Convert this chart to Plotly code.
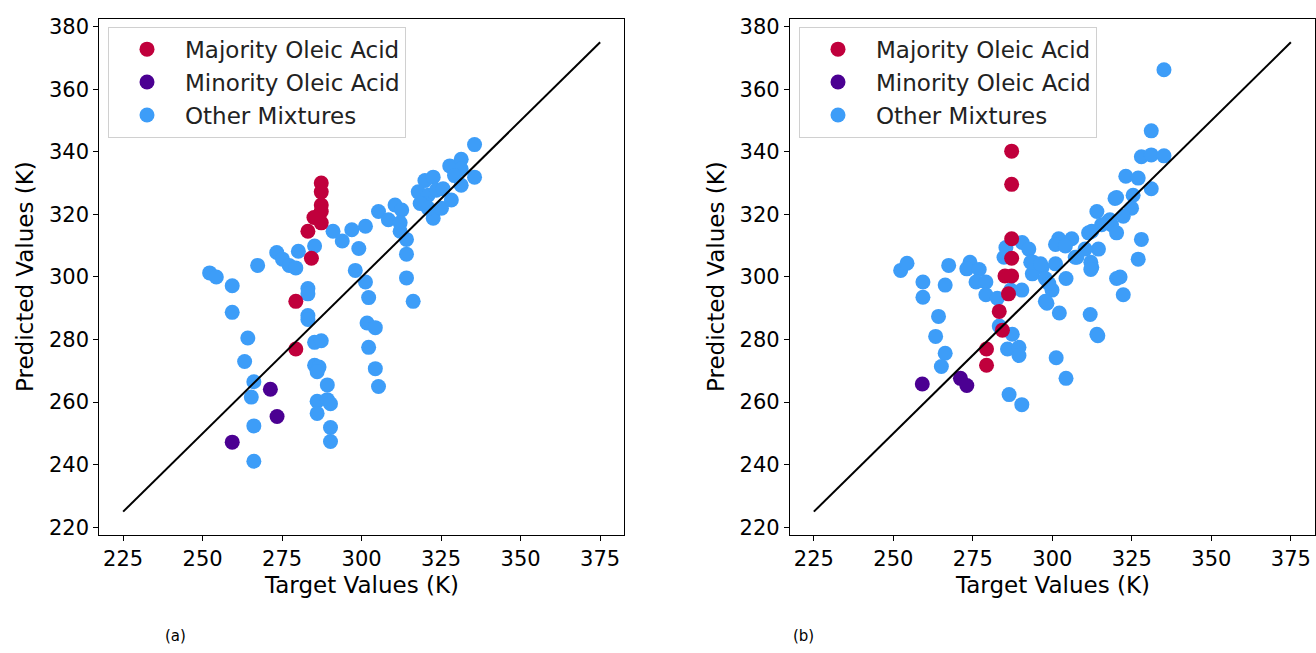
import plotly.graph_objects as go

# ---------------- data: panel (a) ----------------
a_major_x = [287.3, 287.3, 287.3, 287.3, 285.0, 287.3, 283.1, 284.2, 279.3, 279.3]
a_major_y = [330.0, 327.2, 323.0, 320.9, 319.0, 317.3, 314.6, 306.0, 292.2, 277.0]

a_minor_x = [271.3, 273.4, 259.3]
a_minor_y = [264.1, 255.4, 247.2]

a_other_x = [252.2, 254.3, 259.3, 259.3, 264.2, 263.2, 266.1, 265.3, 266.1, 266.1,
             267.3, 273.3, 275.1, 277.2, 279.3, 280.1, 285.2, 283.1, 283.1, 283.1,
             283.1, 285.2, 287.3, 285.2, 286.6, 286.0, 289.2, 286.0, 289.2, 290.2,
             286.0, 290.2, 290.2, 291.0, 293.9, 296.9, 298.0, 299.1, 301.2, 301.2,
             302.2, 301.7, 304.3, 302.2, 304.3, 305.3, 305.3, 308.4, 310.5, 312.6,
             312.1, 312.1, 314.1, 314.1, 314.1, 316.2, 317.8, 319.9, 322.5, 320.9,
             323.5, 319.9, 322.5, 325.1, 328.2, 327.7, 331.3, 331.3, 329.2, 331.3,
             335.5, 335.5, 318.4, 320.9, 325.6]
a_other_y = [301.3, 300.0, 297.2, 288.7, 280.5, 273.0, 266.5, 261.6, 252.4, 241.1,
             303.7, 307.8, 305.7, 303.7, 302.9, 308.2, 309.9, 296.3, 294.6, 287.7,
             286.4, 279.1, 279.6, 271.8, 271.2, 269.7, 265.5, 260.3, 260.8, 259.5,
             256.4, 251.9, 247.4, 314.6, 311.5, 315.1, 302.1, 309.1, 316.2, 298.4,
             293.4, 285.3, 283.8, 277.5, 270.7, 265.0, 320.9, 318.3, 323.0, 321.4,
             317.3, 314.6, 312.0, 307.3, 299.7, 292.2, 327.2, 330.8, 331.9, 326.1,
             327.7, 323.5, 318.8, 322.0, 324.6, 335.5, 337.6, 334.5, 332.4, 329.3,
             342.3, 331.9, 323.5, 322.0, 328.2]

# ---------------- data: panel (b) ----------------
b_major_x = [287.2, 287.2, 287.2, 287.2, 285.1, 287.2, 286.2, 283.3, 284.3, 279.3, 279.3]
b_major_y = [340.2, 329.6, 312.2, 306.0, 300.3, 300.3, 294.6, 289.0, 283.0, 277.0, 271.8]

b_minor_x = [259.1, 271.1, 273.1]
b_minor_y = [265.8, 267.6, 265.3]

b_other_x = [252.3, 254.3, 259.3, 259.3, 267.4, 266.3, 264.2, 263.3, 266.3, 265.1,
             274.1, 273.1, 277.0, 276.0, 279.1, 279.1, 282.7, 285.4, 284.8, 290.5,
             292.6, 290.4, 286.9, 283.3, 287.4, 285.9, 289.5, 289.5, 286.4, 290.4,
             294.0, 296.8, 293.7, 297.8, 301.0, 304.3, 299.9, 298.3, 302.2, 301.2,
             304.3, 302.0, 306.1, 307.2, 301.0, 304.1, 311.4, 314.0, 317.6, 319.7,
             314.5, 310.3, 307.7, 312.4, 298.9, 311.9, 314.0, 293.2, 296.3, 318.6,
             320.2, 335.1, 331.1, 328.0, 331.1, 335.1, 323.1, 327.0, 331.1, 320.2,
             325.4, 324.9, 322.3, 318.1, 315.5, 312.4, 320.2, 328.0, 327.0, 312.1,
             312.1, 321.3, 322.3, 297.8, 314.3]
b_other_y = [302.1, 304.4, 298.4, 293.5, 303.7, 297.4, 287.4, 281.0, 275.6, 271.4,
             304.7, 302.6, 302.4, 298.4, 298.4, 294.3, 293.2, 309.4, 306.3, 311.0,
             308.9, 295.8, 295.8, 284.3, 281.7, 277.0, 277.5, 274.9, 262.4, 259.2,
             304.7, 303.1, 301.0, 299.5, 304.2, 299.5, 295.8, 291.6, 288.5, 274.2,
             267.6, 312.2, 312.2, 306.3, 310.4, 309.9, 314.1, 320.9, 317.8, 325.1,
             308.9, 308.9, 306.3, 303.1, 297.9, 288.0, 281.7, 304.7, 304.2, 316.7,
             299.5, 366.2, 346.7, 338.4, 339.0, 338.7, 332.2, 331.6, 328.2, 325.4,
             326.1, 322.0, 319.4, 318.3, 316.7, 314.6, 314.1, 312.0, 305.7, 304.7,
             302.4, 300.0, 294.3, 292.2, 281.2]

# identity line
line_range = [225, 375]

# tick values
x_ticks = [225, 250, 275, 300, 325, 350, 375]
y_ticks = [220, 240, 260, 280, 300, 320, 340, 360, 380]

series_names = ["Majority Oleic Acid", "Minority Oleic Acid", "Other Mixtures"]
RED, PURPLE, BLUE = "#C0003C", "#4B0092", "#3D9DF8"

FONT = "DejaVu Sans"
MS = 15

fig = go.Figure()

panels = [
    ("x", "y", "legend", a_major_x, a_major_y, a_minor_x, a_minor_y, a_other_x, a_other_y),
    ("x2", "y2", "legend2", b_major_x, b_major_y, b_minor_x, b_minor_y, b_other_x, b_other_y),
]

for xa, ya, lg, mx, my, nx, ny, ox, oy in panels:
    fig.add_trace(go.Scatter(x=ox, y=oy, mode="markers", name=series_names[2],
                             marker=dict(color=BLUE, size=MS, line=dict(width=0)),
                             xaxis=xa, yaxis=ya, legend=lg, legendrank=3))
    fig.add_trace(go.Scatter(x=nx, y=ny, mode="markers", name=series_names[1],
                             marker=dict(color=PURPLE, size=MS, line=dict(width=0)),
                             xaxis=xa, yaxis=ya, legend=lg, legendrank=2))
    fig.add_trace(go.Scatter(x=mx, y=my, mode="markers", name=series_names[0],
                             marker=dict(color=RED, size=MS, line=dict(width=0)),
                             xaxis=xa, yaxis=ya, legend=lg, legendrank=1))
    fig.add_trace(go.Scatter(x=line_range, y=line_range, mode="lines",
                             line=dict(color="black", width=2), showlegend=False,
                             xaxis=xa, yaxis=ya, hoverinfo="skip"))

axis_common = dict(
    range=[217.5, 382.5], showgrid=False, zeroline=False,
    showline=True, linecolor="black", linewidth=1.2, mirror=True,
    ticks="outside", ticklen=5, tickwidth=1.2, tickcolor="black",
    tickfont=dict(family=FONT, size=21, color="black"),
)

W, H = 1316, 653
xd1 = [99.3 / W, 624 / W]
xd2 = [790 / W, 1314.7 / W]
yd = [1 - 537.7 / H, 1 - 15 / H]

legend_common = dict(
    y=1 - 23 / H, xanchor="left", yanchor="top",
    bgcolor="rgba(255,255,255,0.8)", bordercolor="#d0d0d0", borderwidth=1,
    font=dict(family=FONT, size=23, color="#222"), itemsizing="trace",
    itemwidth=66, tracegroupgap=0,
)

fig.update_layout(
    width=W, height=H,
    margin=dict(l=0, r=0, t=0, b=0),
    paper_bgcolor="white", plot_bgcolor="white",
    font=dict(family=FONT, color="black"),
    xaxis=dict(domain=xd1, anchor="y", tickvals=x_ticks, **axis_common),
    yaxis=dict(domain=yd, anchor="x", tickvals=y_ticks, **axis_common),
    xaxis2=dict(domain=xd2, anchor="y2", tickvals=x_ticks, **axis_common),
    yaxis2=dict(domain=yd, anchor="x2", tickvals=y_ticks, **axis_common),
    legend=dict(x=108 / W, **legend_common),
    legend2=dict(x=799 / W, **legend_common),
    showlegend=True,
)

annotations = [
    dict(text="Target Values (K)", x=(xd1[0] + xd1[1]) / 2, y=1 - 588 / H,
         font=dict(size=23)),
    dict(text="Target Values (K)", x=(xd2[0] + xd2[1]) / 2, y=1 - 588 / H,
         font=dict(size=23)),
    dict(text="Predicted Values (K)", x=25 / W, y=(yd[0] + yd[1]) / 2, textangle=-90,
         font=dict(size=23)),
    dict(text="Predicted Values (K)", x=716 / W, y=(yd[0] + yd[1]) / 2, textangle=-90,
         font=dict(size=23)),
    dict(text="(a)", x=175 / W, y=1 - 640 / H, font=dict(size=15)),
    dict(text="(b)", x=803 / W, y=1 - 640 / H, font=dict(size=15)),
]
for a in annotations:
    a.update(xref="paper", yref="paper", showarrow=False, xanchor="center", yanchor="middle")
    a["font"].update(family=FONT, color="black")
fig.update_layout(annotations=annotations)

fig.write_html("out.html", config={"displayModeBar": False},
               post_script="document.body.style.margin='0';")
